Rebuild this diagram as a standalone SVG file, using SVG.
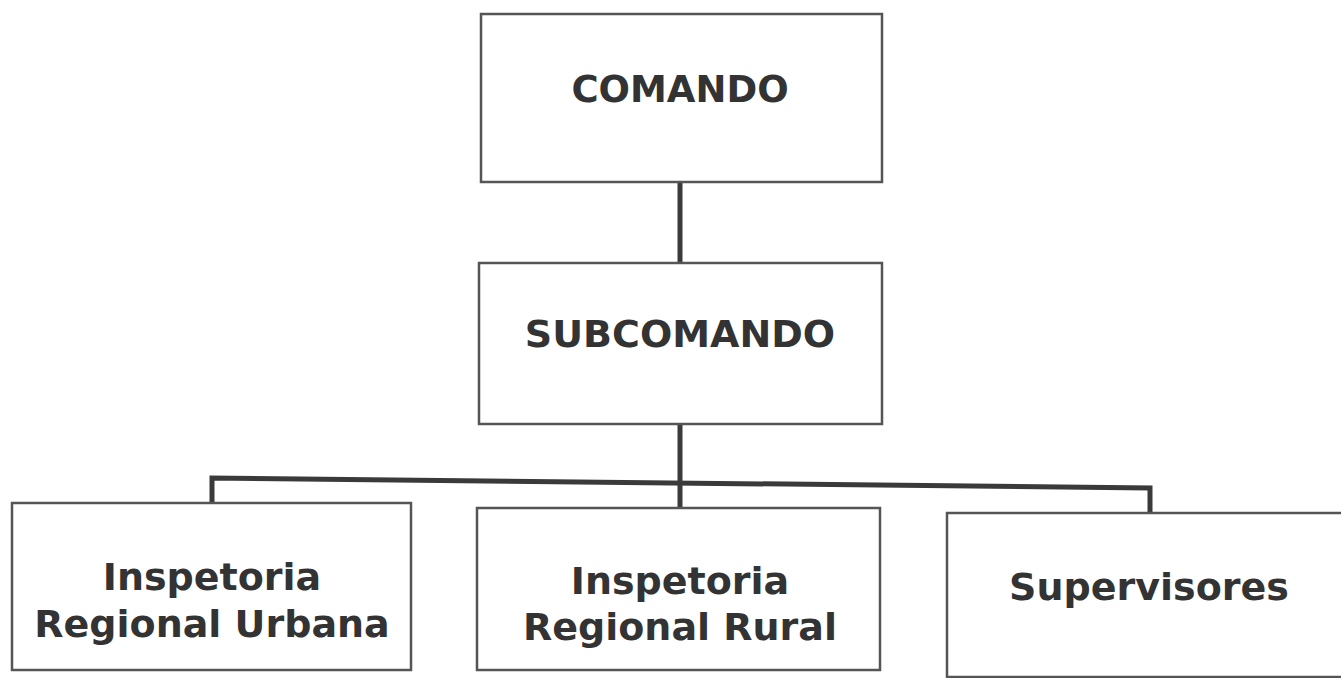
<svg xmlns="http://www.w3.org/2000/svg" width="1341" height="678" viewBox="0 0 1341 678">
<style>
.box{fill:#fff;stroke:#555;stroke-width:2.5}
.lbl{font-family:"DejaVu Sans",Verdana,sans-serif;font-weight:bold;fill:#333;text-anchor:middle}
.con{fill:none;stroke:#3a3a3a;stroke-width:5}
</style>
<rect width="1341" height="678" fill="#fff"/>
<g id="connectors">
<line class="con" x1="680" y1="182" x2="680" y2="262"/>
<line class="con" x1="680" y1="424" x2="680" y2="508"/>
<polyline class="con" points="212,503 212,478 1150,488 1150,513"/>
</g>
<g id="comando">
<rect class="box" x="481" y="14" width="401" height="168"/>
<text class="lbl" x="680" y="102" font-size="37">COMANDO</text>
</g>
<g id="subcomando">
<rect class="box" x="479" y="263" width="403" height="161"/>
<text class="lbl" x="680" y="347" font-size="38">SUBCOMANDO</text>
</g>
<g id="urbana">
<rect class="box" x="12" y="503" width="399" height="167"/>
<text class="lbl" x="212" y="590" font-size="38">Inspetoria</text>
<text class="lbl" x="212" y="637" font-size="38">Regional Urbana</text>
</g>
<g id="rural">
<rect class="box" x="477" y="508" width="403" height="162"/>
<text class="lbl" x="680" y="594" font-size="38">Inspetoria</text>
<text class="lbl" x="680" y="640" font-size="38">Regional Rural</text>
</g>
<g id="supervisores">
<rect class="box" x="947" y="513" width="400" height="164"/>
<text class="lbl" x="1149" y="600" font-size="38">Supervisores</text>
</g>
</svg>
